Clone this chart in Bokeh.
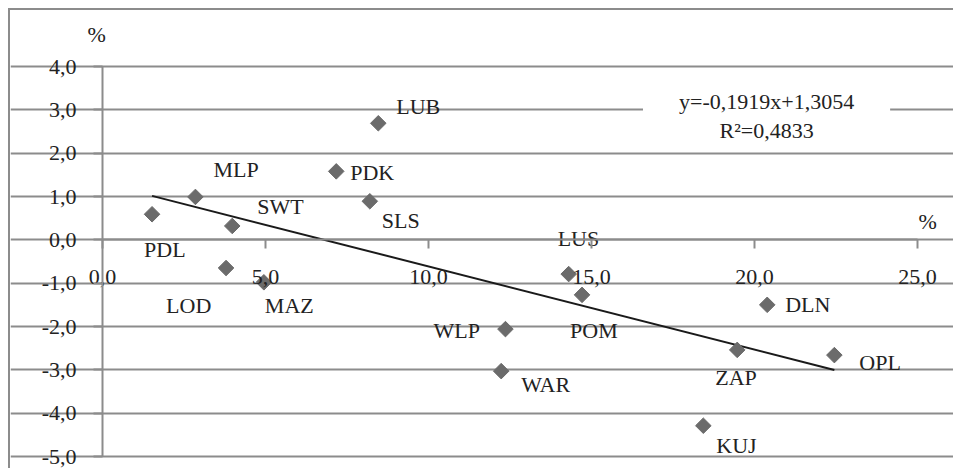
from bokeh.plotting import figure
from bokeh.models import FixedTicker, Label, Range1d, ColumnDataSource
from bokeh.core.properties import value
from bokeh.embed import file_html
from bokeh.resources import INLINE
import math

# ---- data ----
regions = ["PDL", "MLP", "SWT", "LOD", "MAZ", "PDK", "SLS", "LUB",
           "WLP", "WAR", "LUS", "POM", "KUJ", "ZAP", "DLN", "OPL"]
x_vals = [1.52, 2.85, 3.98, 3.79, 4.95, 7.17, 8.20, 8.46,
          12.36, 12.23, 14.30, 14.71, 18.43, 19.47, 20.39, 22.45]
y_vals = [0.59, 0.99, 0.32, -0.65, -0.98, 1.58, 0.89, 2.69,
          -2.06, -3.03, -0.79, -1.27, -4.29, -2.54, -1.50, -2.66]
trend_slope = -0.1919
trend_intercept = 1.3054
equation_text = "y=-0,1919x+1,3054"
r2_text = "R\u00b2=0,4833"
x_ticks = [0, 5, 10, 15, 20, 25]
x_tick_labels = ["0,0", "5,0", "10,0", "15,0", "20,0", "25,0"]
y_ticks = [-5, -4, -3, -2, -1, 0, 1, 2, 3, 4]
y_tick_labels = ["-5,0", "-4,0", "-3,0", "-2,0", "-1,0", "0,0", "1,0", "2,0", "3,0", "4,0"]
unit_label = "%"

# ---- label placement (screen px, styles) ----
label_dx = [-8, 18, 25, -60, 1, 14, 12, 18, -72, 20, -11, -12, 13, -22, 18, 25]
label_dy = [35, -27, -19, 37, 23, 1, 19, -17, 1, 13, -36, 36, 20, 28, 0, 7]

FONT_NAME = "Liberation Serif"
FONT = value(FONT_NAME)
GRID = "#8c8c8c"
TEXT = "#222222"

# ---- layout (canvas pixels) ----
W, H = 945, 460
X_LO_PX, X_HI_PX = 92, 907      # x = 0 .. 25
Y_HI_PX, Y_LO_PX = 56, 446      # y = 4 .. -5
xs = (X_HI_PX - X_LO_PX) / (x_ticks[-1] - x_ticks[0])
ys = (Y_LO_PX - Y_HI_PX) / (y_ticks[-1] - y_ticks[0])
x_range = Range1d(x_ticks[0] - X_LO_PX / xs, x_ticks[-1] + (W - X_HI_PX) / xs)
y_range = Range1d(y_ticks[0] - (H - Y_LO_PX) / ys, y_ticks[-1] + Y_HI_PX / ys)

p = figure(width=W, height=H, x_range=x_range, y_range=y_range,
           output_backend="svg", toolbar_location=None,
           min_border_left=0, min_border_right=0, min_border_top=0, min_border_bottom=0)
p.outline_line_color = None
p.background_fill_color = "white"
p.border_fill_color = "white"
p.styles = {"margin-left": "8px", "margin-top": "8px",
            "border-left": "2px solid #8c8c8c", "border-top": "2px solid #8c8c8c"}

p.xgrid.visible = False
p.ygrid.ticker = FixedTicker(ticks=y_ticks)
p.ygrid.grid_line_color = GRID
p.ygrid.grid_line_width = 2
p.ygrid.bounds = (x_ticks[0], x_ticks[-1])

for ax in (p.xaxis[0], p.yaxis[0]):
    ax.axis_line_color = GRID
    ax.axis_line_width = 2
    ax.major_tick_line_color = GRID
    ax.major_tick_line_width = 2
    ax.major_tick_in = 0
    ax.major_tick_out = 9
    ax.minor_tick_line_color = None
    ax.major_label_text_font = FONT_NAME
    ax.major_label_text_font_size = "22px"
    ax.major_label_text_color = TEXT

p.xaxis.ticker = FixedTicker(ticks=x_ticks)
p.xaxis.major_label_overrides = {t: l for t, l in zip(x_ticks, x_tick_labels)}
p.xaxis.fixed_location = 0
p.xaxis.bounds = (x_ticks[0], x_ticks[-1])
p.xaxis.major_label_standoff = 21
p.yaxis.ticker = FixedTicker(ticks=y_ticks)
p.yaxis.major_label_overrides = {t: l for t, l in zip(y_ticks, y_tick_labels)}
p.yaxis.fixed_location = 0
p.yaxis.bounds = (y_ticks[0], y_ticks[-1])
p.yaxis.major_label_standoff = 17

# trend line
tx = [min(x_vals), max(x_vals)]
ty = [trend_slope * v + trend_intercept for v in tx]
p.line(tx, ty, line_color="#1a1a1a", line_width=2)

src = ColumnDataSource(dict(x=x_vals, y=y_vals, name=regions, dx=label_dx, dy=label_dy))
p.scatter("x", "y", source=src, marker="square", angle=math.pi / 4, size=11,
          fill_color="#6b6b6b", line_color="#6b6b6b")
p.text("x", "y", text="name", source=src, x_offset="dx", y_offset="dy",
       text_font=FONT, text_font_size="22px", text_color=TEXT,
       text_align="left", text_baseline="middle")

# equation labels
p.add_layout(Label(x=20.37, y=3.19, text=equation_text, text_font=FONT_NAME,
                   text_font_size="22px", text_color=TEXT, text_align="center",
                   text_baseline="middle", background_fill_color="white",
                   padding=dict(left=36, right=36, top=3, bottom=3)))
p.add_layout(Label(x=20.37, y=2.52, text=r2_text, text_font=FONT_NAME,
                   text_font_size="22px", text_color=TEXT, text_align="center",
                   text_baseline="middle"))
# unit labels
p.add_layout(Label(x=-0.18, y=4.73, text=unit_label, text_font=FONT_NAME,
                   text_font_size="22px", text_color=TEXT, text_align="center",
                   text_baseline="middle"))
p.add_layout(Label(x=25.31, y=0.42, text=unit_label, text_font=FONT_NAME,
                   text_font_size="22px", text_color=TEXT, text_align="center",
                   text_baseline="middle"))

open("out.html", "w").write(file_html(p, INLINE))
